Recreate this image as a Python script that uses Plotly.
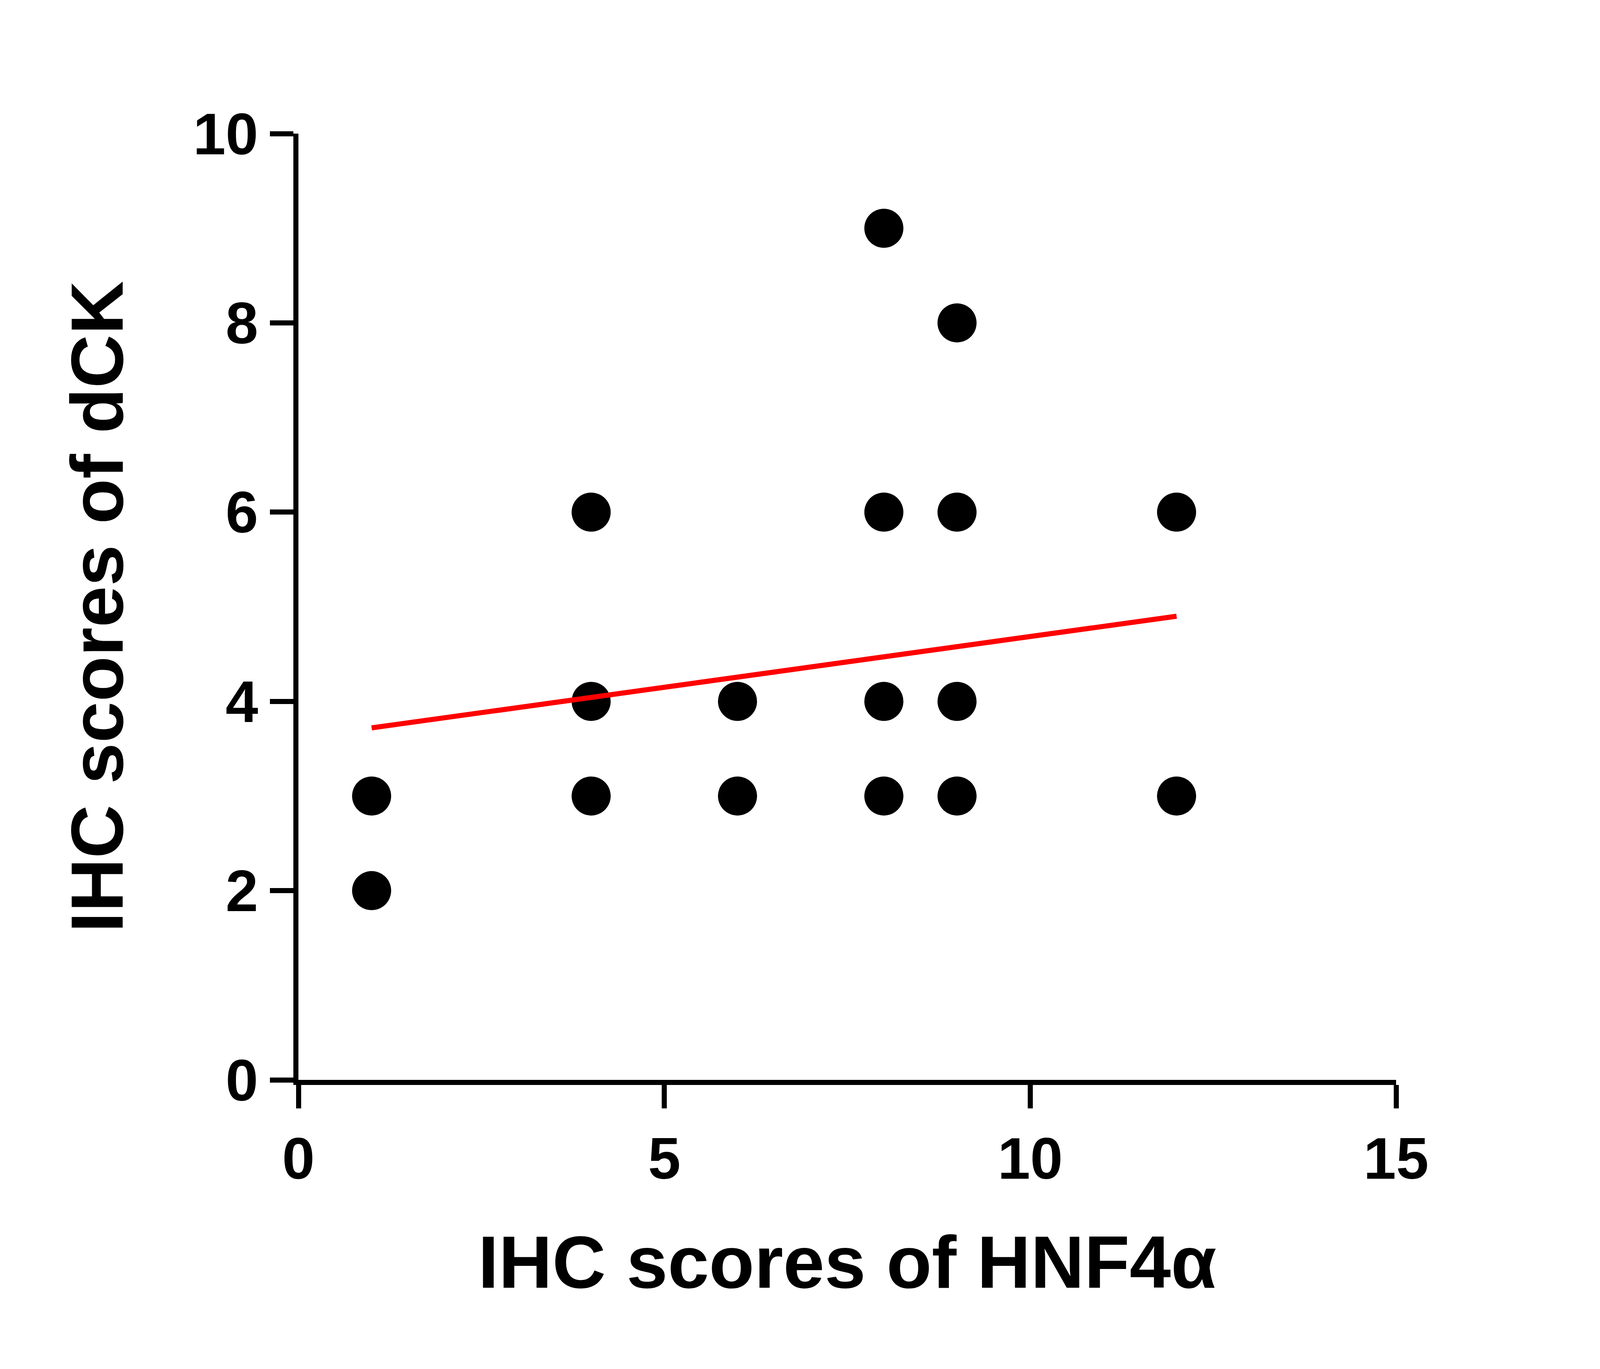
import plotly.graph_objects as go

# IHC scores (overlapping points share positions)
hnf4a = [1, 1, 4, 4, 4, 6, 6, 8, 8, 8, 8, 9, 9, 9, 9, 12, 12]
dck = [3, 2, 6, 4, 3, 4, 3, 9, 6, 4, 3, 8, 6, 4, 3, 6, 3]

fit_x = [1, 12]
fit_y = [3.72, 4.90]

stats_lines = ["Spearman r=0.1502", "<i>P</i>=0.4281#", "n=30"]
stats_y = [9.91, 8.93, 7.96]

fig = go.Figure()
fig.add_trace(go.Scatter(x=hnf4a, y=dck, mode='markers',
                         marker=dict(color='black', size=100), showlegend=False))
fig.add_trace(go.Scatter(x=fit_x, y=fit_y, mode='lines',
                         line=dict(color='#ff0000', width=13), showlegend=False))

for txt, yy in zip(stats_lines, stats_y):
    fig.add_annotation(x=15.15, y=yy, xref='x', yref='y', text=txt, showarrow=False,
                       xanchor='right', yanchor='middle',
                       font=dict(family='Arial, Liberation Sans', size=190, color='black'))

axis_common = dict(showgrid=False, zeroline=False, showline=True, linecolor='black',
                   linewidth=13, ticks='outside', ticklen=60, tickwidth=13, tickcolor='black',
                   tickfont=dict(family='Arial, Liberation Sans', size=150, color='black', weight='bold'))

fig.update_xaxes(range=[0, 15], tickvals=[0, 5, 10, 15], **axis_common,
                 title=dict(text='<b>IHC scores of HNF4α</b>', standoff=120,
                            font=dict(family='Arial, Liberation Sans', size=190, color='black')))
fig.update_yaxes(range=[0, 10], tickvals=[0, 2, 4, 6, 8, 10], **axis_common,
                 title=dict(text='<b>IHC scores of dCK</b>', standoff=120,
                            font=dict(family='Arial, Liberation Sans', size=190, color='black')))

fig.update_layout(autosize=True, plot_bgcolor='white', paper_bgcolor='white',
                  margin=dict(l=756, r=514, t=334, b=748))

fig.write_html("out.html", default_width='100%', default_height='100vh')
